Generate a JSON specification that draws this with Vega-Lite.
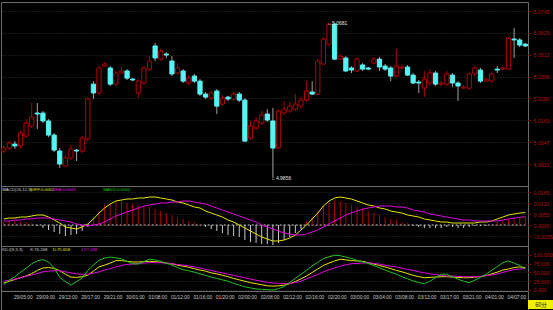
{
"$schema": "https://vega.github.io/schema/vega-lite/v6.json",
"background": "#000000",
"padding": {"left": 0, "top": 1, "right": 0, "bottom": 0},
"spacing": 0,
"bounds": "flush",
"config": {
  "concat": {"spacing": 0},
  "view": {"stroke": "#6a6a6a", "strokeWidth": 1},
  "axis": {"domain": false, "labelColor": "#b81010", "labelFont": "Liberation Sans", "labelFontSize": 5.3, "tickColor": "#7a0000", "tickSize": 3, "labelPadding": 2, "grid": true, "gridColor": "#303030", "gridDash": [1, 2], "minExtent": 26, "maxExtent": 26},
  "text": {"font": "Liberation Sans"}
},
"datasets": {
"candles": [
{"t":"29/03:00","o":5.0000,"h":5.0027,"l":4.9989,"c":5.0016,"dif":0.003,"dea":0.002,"m":0.0015,"k":20,"d":25,"j":15},
{"t":"29/04:00","o":5.0016,"h":5.0053,"l":5.0005,"c":5.0043,"dif":0.0035,"dea":0.002,"m":0.002,"k":25,"d":28,"j":28},
{"t":"29/05:00","o":5.0037,"h":5.0053,"l":5.0011,"c":5.0027,"dif":0.0035,"dea":0.0025,"m":0.002,"k":30,"d":31,"j":38},
{"t":"29/06:00","o":5.0027,"h":5.0106,"l":5.0016,"c":5.0096,"dif":0.004,"dea":0.0025,"m":0.0015,"k":35,"d":35,"j":51},
{"t":"29/07:00","o":5.0080,"h":5.0170,"l":5.0069,"c":5.0149,"dif":0.004,"dea":0.003,"m":0.0015,"k":40,"d":39,"j":62},
{"t":"29/08:00","o":5.0133,"h":5.0255,"l":5.0122,"c":5.0181,"dif":0.0045,"dea":0.003,"m":0.001,"k":47,"d":43,"j":75},
{"t":"29/09:00","o":5.0202,"h":5.0255,"l":5.0117,"c":5.0197,"dif":0.005,"dea":0.0035,"m":-0.0005,"k":56,"d":47,"j":83},
{"t":"29/10:00","o":5.0202,"h":5.0213,"l":5.0149,"c":5.0160,"dif":0.005,"dea":0.0035,"m":-0.0015,"k":63,"d":52,"j":87},
{"t":"29/11:00","o":5.0160,"h":5.0170,"l":5.0074,"c":5.0085,"dif":0.004,"dea":0.0035,"m":-0.0025,"k":64,"d":54,"j":80},
{"t":"29/12:00","o":5.0085,"h":5.0096,"l":4.9995,"c":5.0005,"dif":0.0025,"dea":0.003,"m":-0.0035,"k":62,"d":55,"j":63},
{"t":"29/13:00","o":5.0000,"h":5.0016,"l":4.9910,"c":4.9931,"dif":0.001,"dea":0.0025,"m":-0.0045,"k":55,"d":55,"j":36},
{"t":"29/14:00","o":4.9920,"h":4.9979,"l":4.9915,"c":4.9963,"dif":-0.001,"dea":0.002,"m":-0.0055,"k":45,"d":52,"j":24},
{"t":"29/15:00","o":4.9963,"h":5.0032,"l":4.9952,"c":5.0011,"dif":-0.0015,"dea":0.0015,"m":-0.005,"k":37,"d":49,"j":14},
{"t":"29/16:00","o":5.0005,"h":5.0011,"l":4.9947,"c":5.0000,"dif":-0.002,"dea":0.0005,"m":-0.0045,"k":36,"d":46,"j":24},
{"t":"29/17:00","o":5.0000,"h":5.0080,"l":4.9989,"c":5.0069,"dif":-0.001,"dea":0,"m":-0.003,"k":38,"d":45,"j":34},
{"t":"29/18:00","o":5.0064,"h":5.0287,"l":5.0053,"c":5.0277,"dif":0.0005,"dea":-0.0005,"m":-0.001,"k":42,"d":45,"j":56},
{"t":"29/19:00","o":5.0356,"h":5.0372,"l":5.0277,"c":5.0309,"dif":0.003,"dea":0,"m":0.004,"k":54,"d":48,"j":71},
{"t":"29/20:00","o":5.0309,"h":5.0452,"l":5.0298,"c":5.0442,"dif":0.006,"dea":0.0005,"m":0.007,"k":66,"d":52,"j":85},
{"t":"29/21:00","o":5.0452,"h":5.0473,"l":5.0447,"c":5.0463,"dif":0.0085,"dea":0.0015,"m":0.01,"k":71,"d":57,"j":91},
{"t":"29/22:00","o":5.0442,"h":5.0452,"l":5.0346,"c":5.0356,"dif":0.0105,"dea":0.003,"m":0.011,"k":77,"d":61,"j":94},
{"t":"29/23:00","o":5.0356,"h":5.0426,"l":5.0346,"c":5.0415,"dif":0.012,"dea":0.0045,"m":0.012,"k":84,"d":66,"j":92},
{"t":"30/00:00","o":5.0415,"h":5.0447,"l":5.0410,"c":5.0426,"dif":0.0125,"dea":0.0055,"m":0.012,"k":84,"d":70,"j":89},
{"t":"30/01:00","o":5.0426,"h":5.0436,"l":5.0378,"c":5.0388,"dif":0.013,"dea":0.0065,"m":0.011,"k":82,"d":73,"j":82},
{"t":"30/02:00","o":5.0383,"h":5.0388,"l":5.0372,"c":5.0378,"dif":0.013,"dea":0.0075,"m":0.0105,"k":80,"d":74,"j":75},
{"t":"30/03:00","o":5.0309,"h":5.0383,"l":5.0282,"c":5.0372,"dif":0.0135,"dea":0.0085,"m":0.01,"k":80,"d":76,"j":74},
{"t":"01/07:00","o":5.0362,"h":5.0452,"l":5.0351,"c":5.0442,"dif":0.0135,"dea":0.0095,"m":0.0095,"k":81,"d":77,"j":81},
{"t":"01/08:00","o":5.0436,"h":5.0505,"l":5.0426,"c":5.0479,"dif":0.014,"dea":0.01,"m":0.009,"k":82,"d":78,"j":88},
{"t":"01/09:00","o":5.0559,"h":5.0575,"l":5.0479,"c":5.0495,"dif":0.014,"dea":0.0105,"m":0.008,"k":81,"d":78,"j":86},
{"t":"01/10:00","o":5.0489,"h":5.0543,"l":5.0479,"c":5.0532,"dif":0.0135,"dea":0.011,"m":0.007,"k":79,"d":78,"j":82},
{"t":"01/11:00","o":5.0516,"h":5.0527,"l":5.0495,"c":5.0511,"dif":0.013,"dea":0.011,"m":0.006,"k":77,"d":77,"j":77},
{"t":"01/12:00","o":5.0479,"h":5.0505,"l":5.0399,"c":5.0410,"dif":0.0125,"dea":0.0115,"m":0.005,"k":75,"d":75,"j":71},
{"t":"01/13:00","o":5.0415,"h":5.0468,"l":5.0404,"c":5.0442,"dif":0.0115,"dea":0.0115,"m":0.004,"k":71,"d":73,"j":64},
{"t":"01/14:00","o":5.0426,"h":5.0436,"l":5.0362,"c":5.0372,"dif":0.011,"dea":0.012,"m":0.003,"k":68,"d":71,"j":58},
{"t":"01/15:00","o":5.0362,"h":5.0404,"l":5.0351,"c":5.0388,"dif":0.01,"dea":0.012,"m":0.002,"k":65,"d":69,"j":55},
{"t":"01/16:00","o":5.0399,"h":5.0410,"l":5.0362,"c":5.0372,"dif":0.009,"dea":0.0115,"m":0.0015,"k":61,"d":66,"j":51},
{"t":"01/17:00","o":5.0372,"h":5.0383,"l":5.0293,"c":5.0303,"dif":0.0085,"dea":0.011,"m":0.0005,"k":57,"d":63,"j":46},
{"t":"01/18:00","o":5.0303,"h":5.0314,"l":5.0277,"c":5.0287,"dif":0.007,"dea":0.0105,"m":-0.001,"k":54,"d":59,"j":42},
{"t":"01/19:00","o":5.0282,"h":5.0319,"l":5.0271,"c":5.0309,"dif":0.006,"dea":0.0095,"m":-0.002,"k":49,"d":56,"j":37},
{"t":"01/20:00","o":5.0319,"h":5.0330,"l":5.0197,"c":5.0239,"dif":0.005,"dea":0.0085,"m":-0.003,"k":46,"d":52,"j":33},
{"t":"01/21:00","o":5.0250,"h":5.0298,"l":5.0239,"c":5.0282,"dif":0.004,"dea":0.0075,"m":-0.004,"k":42,"d":49,"j":29},
{"t":"01/22:00","o":5.0287,"h":5.0293,"l":5.0266,"c":5.0277,"dif":0.0025,"dea":0.0065,"m":-0.005,"k":38,"d":45,"j":25},
{"t":"01/23:00","o":5.0277,"h":5.0314,"l":5.0266,"c":5.0303,"dif":0.0015,"dea":0.0055,"m":-0.0055,"k":33,"d":42,"j":19},
{"t":"02/00:00","o":5.0303,"h":5.0314,"l":5.0261,"c":5.0271,"dif":0,"dea":0.0045,"m":-0.006,"k":29,"d":38,"j":14},
{"t":"02/01:00","o":5.0271,"h":5.0282,"l":5.0048,"c":5.0053,"dif":-0.0015,"dea":0.0035,"m":-0.0075,"k":25,"d":35,"j":9},
{"t":"02/02:00","o":5.0069,"h":5.0160,"l":5.0059,"c":5.0133,"dif":-0.003,"dea":0.0025,"m":-0.0085,"k":21,"d":31,"j":6},
{"t":"02/07:00","o":5.0122,"h":5.0181,"l":5.0112,"c":5.0160,"dif":-0.0045,"dea":0.0015,"m":-0.009,"k":18,"d":28,"j":3},
{"t":"02/08:00","o":5.0149,"h":5.0213,"l":5.0138,"c":5.0192,"dif":-0.006,"dea":0,"m":-0.0095,"k":15,"d":25,"j":2},
{"t":"02/09:00","o":5.0197,"h":5.0223,"l":5.0154,"c":5.0165,"dif":-0.007,"dea":-0.001,"m":-0.0095,"k":12,"d":22,"j":1},
{"t":"02/10:00","o":5.0160,"h":5.0229,"l":4.9856,"c":5.0016,"dif":-0.008,"dea":-0.002,"m":-0.01,"k":11,"d":20,"j":0},
{"t":"02/11:00","o":5.0016,"h":5.0223,"l":5.0011,"c":5.0213,"dif":-0.008,"dea":-0.003,"m":-0.009,"k":12,"d":19,"j":4},
{"t":"02/12:00","o":5.0202,"h":5.0266,"l":5.0192,"c":5.0223,"dif":-0.0075,"dea":-0.004,"m":-0.0075,"k":14,"d":18,"j":10},
{"t":"02/13:00","o":5.0213,"h":5.0261,"l":5.0202,"c":5.0239,"dif":-0.0065,"dea":-0.0045,"m":-0.006,"k":18,"d":19,"j":22},
{"t":"02/14:00","o":5.0223,"h":5.0303,"l":5.0213,"c":5.0250,"dif":-0.005,"dea":-0.005,"m":-0.004,"k":24,"d":21,"j":33},
{"t":"02/15:00","o":5.0239,"h":5.0287,"l":5.0229,"c":5.0271,"dif":-0.0025,"dea":-0.005,"m":-0.002,"k":32,"d":25,"j":45},
{"t":"02/16:00","o":5.0271,"h":5.0372,"l":5.0261,"c":5.0319,"dif":0,"dea":-0.0045,"m":0.002,"k":40,"d":32,"j":56},
{"t":"02/17:00","o":5.0314,"h":5.0372,"l":5.0298,"c":5.0303,"dif":0.003,"dea":-0.0035,"m":0.004,"k":50,"d":38,"j":69},
{"t":"02/18:00","o":5.0303,"h":5.0489,"l":5.0298,"c":5.0479,"dif":0.006,"dea":-0.0025,"m":0.007,"k":60,"d":44,"j":79},
{"t":"02/19:00","o":5.0463,"h":5.0606,"l":5.0458,"c":5.0596,"dif":0.0095,"dea":-0.001,"m":0.01,"k":70,"d":52,"j":90},
{"t":"02/20:00","o":5.0569,"h":5.0681,"l":5.0559,"c":5.0676,"dif":0.012,"dea":0.0005,"m":0.012,"k":77,"d":58,"j":95},
{"t":"02/21:00","o":5.0676,"h":5.0681,"l":5.0484,"c":5.0489,"dif":0.0135,"dea":0.002,"m":0.012,"k":83,"d":63,"j":99},
{"t":"02/22:00","o":5.0489,"h":5.0516,"l":5.0484,"c":5.0505,"dif":0.014,"dea":0.0035,"m":0.0115,"k":88,"d":68,"j":98},
{"t":"02/23:00","o":5.0495,"h":5.0505,"l":5.0420,"c":5.0426,"dif":0.0135,"dea":0.005,"m":0.011,"k":86,"d":72,"j":94},
{"t":"03/00:00","o":5.0442,"h":5.0452,"l":5.0415,"c":5.0431,"dif":0.013,"dea":0.006,"m":0.01,"k":84,"d":75,"j":90},
{"t":"03/01:00","o":5.0426,"h":5.0500,"l":5.0420,"c":5.0489,"dif":0.012,"dea":0.007,"m":0.009,"k":83,"d":76,"j":85},
{"t":"03/02:00","o":5.0458,"h":5.0468,"l":5.0426,"c":5.0436,"dif":0.011,"dea":0.008,"m":0.008,"k":82,"d":77,"j":80},
{"t":"03/03:00","o":5.0442,"h":5.0447,"l":5.0431,"c":5.0436,"dif":0.01,"dea":0.0085,"m":0.007,"k":78,"d":78,"j":76},
{"t":"03/04:00","o":5.0468,"h":5.0500,"l":5.0463,"c":5.0489,"dif":0.0095,"dea":0.009,"m":0.006,"k":74,"d":76,"j":70},
{"t":"03/05:00","o":5.0489,"h":5.0500,"l":5.0426,"c":5.0447,"dif":0.0085,"dea":0.0095,"m":0.005,"k":70,"d":74,"j":63},
{"t":"03/06:00","o":5.0452,"h":5.0463,"l":5.0426,"c":5.0436,"dif":0.008,"dea":0.0095,"m":0.004,"k":66,"d":71,"j":57},
{"t":"03/07:00","o":5.0442,"h":5.0452,"l":5.0372,"c":5.0399,"dif":0.007,"dea":0.0095,"m":0.003,"k":61,"d":68,"j":51},
{"t":"03/08:00","o":5.0399,"h":5.0543,"l":5.0394,"c":5.0452,"dif":0.0065,"dea":0.009,"m":0.0025,"k":56,"d":66,"j":45},
{"t":"03/09:00","o":5.0442,"h":5.0458,"l":5.0436,"c":5.0447,"dif":0.006,"dea":0.009,"m":0.0015,"k":52,"d":62,"j":38},
{"t":"03/10:00","o":5.0447,"h":5.0458,"l":5.0399,"c":5.0404,"dif":0.005,"dea":0.0085,"m":0.001,"k":47,"d":59,"j":32},
{"t":"03/12:00","o":5.0404,"h":5.0415,"l":5.0356,"c":5.0362,"dif":0.0045,"dea":0.0075,"m":-0.0005,"k":42,"d":56,"j":26},
{"t":"03/13:00","o":5.0367,"h":5.0378,"l":5.0309,"c":5.0362,"dif":0.004,"dea":0.007,"m":-0.001,"k":38,"d":52,"j":21},
{"t":"03/14:00","o":5.0335,"h":5.0426,"l":5.0287,"c":5.0383,"dif":0.003,"dea":0.0065,"m":-0.0015,"k":35,"d":49,"j":18},
{"t":"03/15:00","o":5.0362,"h":5.0436,"l":5.0351,"c":5.0415,"dif":0.0025,"dea":0.0055,"m":-0.0015,"k":36,"d":46,"j":25},
{"t":"03/16:00","o":5.0415,"h":5.0426,"l":5.0346,"c":5.0356,"dif":0.002,"dea":0.005,"m":-0.0015,"k":37,"d":44,"j":35},
{"t":"03/17:00","o":5.0356,"h":5.0372,"l":5.0346,"c":5.0362,"dif":0.0015,"dea":0.0045,"m":-0.0015,"k":38,"d":42,"j":45},
{"t":"03/18:00","o":5.0356,"h":5.0426,"l":5.0346,"c":5.0410,"dif":0.0015,"dea":0.004,"m":-0.001,"k":38,"d":40,"j":45},
{"t":"03/19:00","o":5.0404,"h":5.0415,"l":5.0340,"c":5.0362,"dif":0.001,"dea":0.0035,"m":-0.001,"k":37,"d":40,"j":38},
{"t":"03/20:00","o":5.0362,"h":5.0372,"l":5.0266,"c":5.0346,"dif":0.001,"dea":0.003,"m":-0.0015,"k":36,"d":39,"j":31},
{"t":"03/21:00","o":5.0335,"h":5.0351,"l":5.0330,"c":5.0340,"dif":0.001,"dea":0.0025,"m":-0.0015,"k":35,"d":38,"j":25},
{"t":"03/22:00","o":5.0335,"h":5.0420,"l":5.0325,"c":5.0410,"dif":0.001,"dea":0.0025,"m":-0.001,"k":35,"d":38,"j":21},
{"t":"03/23:00","o":5.0410,"h":5.0452,"l":5.0399,"c":5.0442,"dif":0.001,"dea":0.002,"m":-0.0005,"k":37,"d":38,"j":28},
{"t":"04/00:00","o":5.0431,"h":5.0442,"l":5.0362,"c":5.0372,"dif":0.0015,"dea":0.002,"m":-0.0005,"k":38,"d":39,"j":36},
{"t":"04/01:00","o":5.0372,"h":5.0388,"l":5.0367,"c":5.0383,"dif":0.0015,"dea":0.002,"m":-0.0005,"k":41,"d":41,"j":45},
{"t":"04/02:00","o":5.0372,"h":5.0420,"l":5.0362,"c":5.0410,"dif":0.002,"dea":0.002,"m":0.0005,"k":46,"d":43,"j":56},
{"t":"04/05:00","o":5.0436,"h":5.0452,"l":5.0415,"c":5.0431,"dif":0.003,"dea":0.002,"m":0.0015,"k":51,"d":46,"j":67},
{"t":"04/06:00","o":5.0436,"h":5.0447,"l":5.0431,"c":5.0442,"dif":0.004,"dea":0.0025,"m":0.002,"k":57,"d":50,"j":78},
{"t":"04/07:00","o":5.0436,"h":5.0606,"l":5.0431,"c":5.0601,"dif":0.005,"dea":0.003,"m":0.003,"k":60,"d":55,"j":83},
{"t":"04/08:00","o":5.0596,"h":5.0654,"l":5.0495,"c":5.0591,"dif":0.0055,"dea":0.0035,"m":0.0035,"k":64,"d":58,"j":77},
{"t":"04/09:00","o":5.0591,"h":5.0601,"l":5.0553,"c":5.0564,"dif":0.006,"dea":0.0038,"m":0.004,"k":66,"d":60,"j":70},
{"t":"04/10:00","o":5.0569,"h":5.0575,"l":5.0553,"c":5.0559,"dif":0.0062,"dea":0.0042,"m":0.004,"k":64,"d":62,"j":60}
],
"ann": [
{"t":"02/20:00","v":5.0681,"label":"←5.0681"},
{"t":"02/10:00","v":4.9856,"label":"←4.9856"}
],
"hdrM": [
{"t":"29/03:00","label":"MACD(26,12,9)","s":"name"},
{"t":"29/08:00","label":"DIFF:0.0062","s":"DIFF"},
{"t":"29/12:00","label":"DEA:0.0042","s":"DEA"},
{"t":"29/21:00","label":"MACD:0.0040","s":"MACD"}
],
"hdrK": [
{"t":"29/03:00","label":"KDJ(9,3,3)","s":"name"},
{"t":"29/08:00","label":"K:76.268","s":"K"},
{"t":"29/12:00","label":"D:75.658","s":"D"},
{"t":"29/17:00","label":"J:77.488","s":"J"}
]
},
"vconcat": [
{
 "width": 527, "height": 184,
 "data": {"name": "candles"},
 "encoding": {"x": {"field": "t", "type": "ordinal", "sort": null, "scale": {"type": "band", "paddingInner": 0.25, "paddingOuter": 0.1}, "axis": null}},
 "layer": [
  {"mark": {"type": "rule", "strokeWidth": 1},
   "encoding": {
    "y": {"field": "l", "type": "quantitative", "scale": {"domain": [4.9814, 5.0793], "zero": false, "nice": false}, "axis": {"orient": "right", "values": [4.9931, 5.0047, 5.0163, 5.028, 5.0396, 5.0512, 5.0629, 5.0745], "tickCount": 30, "format": ".4f", "title": null, "labelOverlap": false}},
    "y2": {"field": "h"},
    "color": {"condition": {"test": "datum.c > datum.o", "value": "#b00000"}, "value": "#a0a0a0"}}},
  {"mark": {"type": "bar", "strokeWidth": 1},
   "encoding": {
    "y": {"field": "o", "type": "quantitative"},
    "y2": {"field": "c"},
    "fill": {"condition": {"test": "datum.c > datum.o", "value": "#000000"}, "value": "#55f5f5"},
    "stroke": {"condition": {"test": "datum.c > datum.o", "value": "#b00000"}, "value": "#55f5f5"}}},
  {"data": {"name": "ann"},
   "mark": {"type": "text", "align": "left", "baseline": "middle", "dx": -2, "fontSize": 5, "fill": "#e0e0e0"},
   "encoding": {"y": {"field": "v", "type": "quantitative"}, "text": {"field": "label"}}}
 ]
},
{
 "width": 527, "height": 60,
 "data": {"name": "candles"},
 "encoding": {"x": {"field": "t", "type": "ordinal", "sort": null, "scale": {"type": "band", "paddingInner": 0.25, "paddingOuter": 0.1}, "axis": null}},
 "layer": [
  {"mark": {"type": "line", "strokeDash": [2, 2], "color": "#cfcfcf", "strokeWidth": 1},
   "encoding": {"y": {"datum": 0, "type": "quantitative", "scale": {"domain": [-0.0105, 0.0195], "zero": false, "nice": false}, "axis": {"orient": "right", "values": [-0.0055, 0, 0.0055, 0.011, 0.0165], "tickCount": 30, "format": ".4f", "title": null, "labelOverlap": false}}}},
  {"mark": {"type": "rule", "strokeWidth": 1},
   "encoding": {
    "y": {"field": "m", "type": "quantitative"},
    "y2": {"datum": 0},
    "color": {"condition": {"test": "datum.m >= 0", "value": "#b00000"}, "value": "#c8c8c8"}}},
  {"mark": {"type": "line", "color": "#e6e600", "strokeWidth": 1},
   "encoding": {"y": {"field": "dif", "type": "quantitative"}}},
  {"mark": {"type": "line", "color": "#e000e0", "strokeWidth": 1},
   "encoding": {"y": {"field": "dea", "type": "quantitative"}}},
  {"data": {"name": "hdrM"},
   "mark": {"type": "text", "align": "left", "baseline": "top", "dx": -1.5, "dy": 2, "fontSize": 4.3},
   "encoding": {
    "y": {"datum": 0.0195, "type": "quantitative"},
    "text": {"field": "label"},
    "color": {"field": "s", "type": "nominal", "scale": {"domain": ["name", "DIFF", "DEA", "MACD"], "range": ["#d0d0d0", "#e6e600", "#e000e0", "#00d000"]}, "legend": null}}}
 ]
},
{
 "width": 527, "height": 45,
 "data": {"name": "candles"},
 "encoding": {"x": {"field": "t", "type": "ordinal", "sort": null, "scale": {"type": "band", "paddingInner": 0.25, "paddingOuter": 0.1}, "axis": null}},
 "layer": [
  {"mark": {"type": "line", "color": "#e6e600", "strokeWidth": 1},
   "encoding": {"y": {"field": "k", "type": "quantitative", "scale": {"domain": [-2.857, 125.7], "zero": false, "nice": false}, "axis": {"orient": "right", "values": [0, 25, 50, 75, 100], "tickCount": 30, "format": ".3f", "title": null, "labelOverlap": false}}}},
  {"mark": {"type": "line", "color": "#e000e0", "strokeWidth": 1},
   "encoding": {"y": {"field": "d", "type": "quantitative"}}},
  {"mark": {"type": "line", "color": "#22c022", "strokeWidth": 1},
   "encoding": {"y": {"field": "j", "type": "quantitative"}}},
  {"data": {"name": "hdrK"},
   "mark": {"type": "text", "align": "left", "baseline": "top", "dx": -1.5, "dy": 2, "fontSize": 4.3},
   "encoding": {
    "y": {"datum": 125.7, "type": "quantitative"},
    "text": {"field": "label"},
    "color": {"field": "s", "type": "nominal", "scale": {"domain": ["name", "K", "D", "J"], "range": ["#d0d0d0", "#e6e600", "#e000e0", "#00d000"]}, "legend": null}}}
 ]
},
{
 "hconcat": [
  {
   "width": 527, "height": 20,
   "data": {"name": "candles"},
   "encoding": {"x": {"field": "t", "type": "ordinal", "sort": null, "scale": {"type": "band", "paddingInner": 0.25, "paddingOuter": 0.1}, "axis": null}},
   "layer": [
    {"mark": {"type": "tick", "opacity": 0}},
    {"transform": [{"filter": {"field": "t", "oneOf": ["29/05:00","29/09:00","29/13:00","29/17:00","29/21:00","30/01:00","01/08:00","01/12:00","01/16:00","01/20:00","02/00:00","02/08:00","02/12:00","02/16:00","02/20:00","03/00:00","03/04:00","03/08:00","03/13:00","03/17:00","03/21:00","04/01:00","04/07:00"]}}],
     "mark": {"type": "text", "align": "left", "baseline": "middle", "dx": -1, "dy": -3, "fontSize": 4.8, "fill": "#c8c8c8"},
     "encoding": {"text": {"field": "t"}}}
   ]
  },
  {
   "width": 26, "height": 20,
   "data": {"values": [{}]},
   "view": {"stroke": null},
   "layer": [
    {"mark": {"type": "rect", "fill": "#f0f000"},
     "encoding": {"y": {"datum": 2, "type": "quantitative", "scale": {"domain": [0, 20], "zero": false, "nice": false}, "axis": null}, "y2": {"datum": 11}}},
    {"mark": {"type": "text", "fontSize": 5.5, "font": "Noto Sans CJK SC", "fill": "#202020", "baseline": "middle"},
     "encoding": {"y": {"datum": 6.5, "type": "quantitative"}, "text": {"value": "60分"}}}
   ]
  }
 ],
 "spacing": 0,
 "bounds": "flush"
}
]
}
